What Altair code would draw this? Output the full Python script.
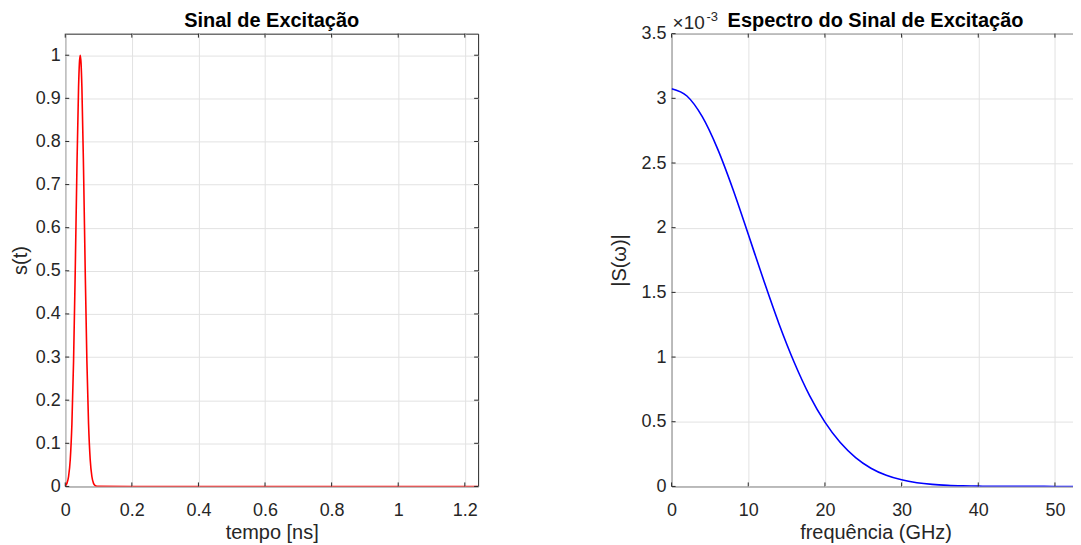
import altair as alt
import pandas as pd

# ---- data ----
t_ns = [0, 0.005, 0.01, 0.015, 0.02, 0.025, 0.03, 0.035, 0.04, 0.0425, 0.045,
        0.0475, 0.05, 0.055, 0.06, 0.065, 0.07, 0.075, 0.08, 0.085, 0.09, 0.095,
        0.1, 0.2, 0.4, 0.6, 0.8, 1.0, 1.24]
s_t = [0.002, 0.007, 0.023, 0.062, 0.145, 0.291, 0.499, 0.734, 0.926, 0.981, 1.0,
       0.981, 0.926, 0.734, 0.499, 0.291, 0.145, 0.062, 0.023, 0.007, 0.002, 0.0004,
       0.0001, 0, 0, 0, 0, 0, 0]

f_ghz = [0, 2, 4, 6, 8, 10, 12, 14, 16, 18, 20, 22, 24, 26, 28, 30, 32, 34, 36, 38,
         40, 42, 44, 46, 48, 50, 52, 53.2]
S_mag_e3 = [3.074, 3.018, 2.858, 2.609, 2.297, 1.949, 1.595, 1.258, 0.958, 0.702,
            0.497, 0.339, 0.223, 0.141, 0.0864, 0.0509, 0.029, 0.0159, 0.0084, 0.0043,
            0.0021, 0.001, 0.0005, 0.0002, 0.0001, 0, 0, 0]

left_xticks = [0, 0.2, 0.4, 0.6, 0.8, 1.0, 1.2]
left_yticks = [0, 0.1, 0.2, 0.3, 0.4, 0.5, 0.6, 0.7, 0.8, 0.9, 1.0]
right_xticks = [0, 10, 20, 30, 40, 50]
right_yticks = [0, 0.5, 1.0, 1.5, 2.0, 2.5, 3.0, 3.5]

titles = ["Sinal de Excitação", "Espectro do Sinal de Excitação"]

FONT = "Liberation Sans"
TEXT = "#262626"
W1, H = 414, 454
W2 = 409
TL = 4


def axis(values, title, label_pad, title_pad):
    return alt.Axis(values=values, format="~r", title=title,
                    grid=True, gridColor="#e2e2e2", gridWidth=1, domain=False,
                    ticks=False, labelPadding=label_pad, titlePadding=title_pad,
                    labelFlush=False, labelOverlap=False,
                    labelFont=FONT, labelFontSize=18, labelColor=TEXT,
                    titleFont=FONT, titleFontSize=20, titleFontWeight="normal",
                    titleColor=TEXT)


def tick_layers(xf, yf, xt, yt, xs, ys, xa, ya, w, h):
    xd = pd.DataFrame({xf: xt})
    yd = pd.DataFrame({yf: yt})
    base_x = alt.X(f"{xf}:Q", scale=xs, axis=xa)
    base_y = alt.Y(f"{yf}:Q", scale=ys, axis=ya)
    r = dict(color=TEXT, strokeWidth=1)
    return [
        alt.Chart(xd).mark_rule(**r).encode(x=base_x, y=alt.value(0), y2=alt.value(TL)),
        alt.Chart(xd).mark_rule(**r).encode(x=base_x, y=alt.value(h - TL), y2=alt.value(h)),
        alt.Chart(yd).mark_rule(**r).encode(y=base_y, x=alt.value(0), x2=alt.value(TL)),
        alt.Chart(yd).mark_rule(**r).encode(y=base_y, x=alt.value(w - TL), x2=alt.value(w)),
    ]


def title_mark(text, w):
    return alt.Chart(pd.DataFrame({"lab": [text]})).mark_text(
        align="center", baseline="alphabetic", font=FONT, fontSize=20,
        fontWeight="bold", color="#000000"
    ).encode(text="lab:N", x=alt.value(w / 2), y=alt.value(-7))


# ---- left panel ----
xs1 = alt.Scale(domain=[0, 1.24], nice=False, zero=False)
ys1 = alt.Scale(domain=[0, 1.05], nice=False, zero=False)
xa1 = axis(left_xticks, "tempo [ns]", 15, 3)
ya1 = axis(left_yticks, "s(t)", 5, 5)
left_line = alt.Chart(pd.DataFrame({"t": t_ns, "s": s_t})).mark_line(
    color="#ff0000", strokeWidth=1.6, interpolate="monotone", clip=True
).encode(
    x=alt.X("t:Q", scale=xs1, axis=xa1),
    y=alt.Y("s:Q", scale=ys1, axis=ya1),
)
left = alt.layer(left_line, *tick_layers("t", "s", left_xticks, left_yticks, xs1, ys1, xa1, ya1, W1, H),
                 title_mark(titles[0], W1)).properties(width=W1, height=H)

# ---- right panel ----
xs2 = alt.Scale(domain=[0, 53.2], nice=False, zero=False)
ys2 = alt.Scale(domain=[0, 3.5], nice=False, zero=False)
xa2 = axis(right_xticks, "frequência (GHz)", 15, 3)
ya2 = axis(right_yticks, "|S(ω)|", 5.7, 11.7)
right_line = alt.Chart(pd.DataFrame({"f": f_ghz, "S": S_mag_e3})).mark_line(
    color="#0000ff", strokeWidth=1.6, interpolate="monotone", clip=True
).encode(
    x=alt.X("f:Q", scale=xs2, axis=xa2),
    y=alt.Y("S:Q", scale=ys2, axis=ya2),
)
exp_base = alt.Chart(pd.DataFrame({"lab": ["×10"]})).mark_text(
    align="left", baseline="alphabetic", font=FONT, fontSize=19, color=TEXT
).encode(text="lab:N", x=alt.value(1), y=alt.value(-5))
exp_sup = alt.Chart(pd.DataFrame({"lab": ["-3"]})).mark_text(
    align="left", baseline="alphabetic", font=FONT, fontSize=13, color=TEXT
).encode(text="lab:N", x=alt.value(35), y=alt.value(-13))
right = alt.layer(right_line, *tick_layers("f", "S", right_xticks, right_yticks, xs2, ys2, xa2, ya2, W2, H),
                  exp_base, exp_sup, title_mark(titles[1], W2)).properties(width=W2, height=H)

chart = alt.hconcat(left, right, spacing=130).properties(
    padding={"left": 1.4, "top": 1, "right": -7.5, "bottom": 0}, background="#ffffff"
).configure_view(stroke=TEXT, strokeWidth=1)

chart.save("out.html", embed_options={"renderer": "svg", "actions": False})
